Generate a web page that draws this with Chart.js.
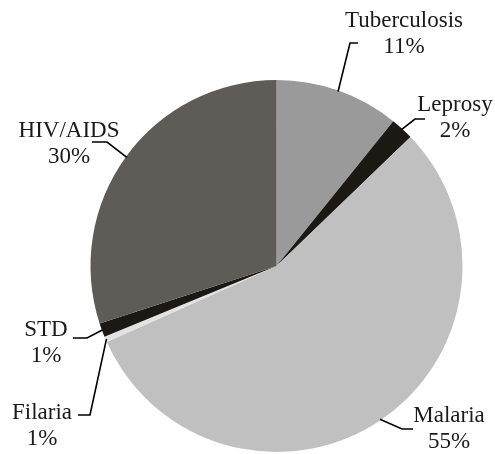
<!DOCTYPE html>
<html>
<head>
<meta charset="utf-8">
<script src="https://cdn.jsdelivr.net/npm/chart.js@4"></script>
<style>
html,body{margin:0;padding:0;background:#fff;}
#wrap{width:495px;height:454px;}
</style>
</head>
<body>
<div id="wrap"><canvas id="pieChart" width="495" height="454"></canvas></div>
<script>

// DATA

const diseases = ["Tuberculosis","Leprosy","Malaria","Filaria","STD","HIV/AIDS"];
const shares = [10.8, 2.0, 55.5, 0.5, 1.2, 30.0];
const shareLabels = ["11%","2%","55%","1%","1%","30%"];
const sliceColors = ["#9a9a9a","#1c1915","#c0c0c0","#e2e2e2","#1c1915","#5f5b57"];

// label layout: leader knee, leader end, text centre and first baseline
const labelLayout = [
{knee:[350,43], end:[358,43], tx:404, ty:27},
{knee:[415,119], end:[425,119], tx:455, ty:111},
{knee:[402,429], end:[413,429], tx:449, ty:422},
{knee:[90,415], end:[78,415], tx:42, ty:419},
{knee:[87,338], end:[73,338], tx:46, ty:336},
{knee:[107,142], end:[92,142], tx:69, ty:137}
];

const leaderLabels = {
id:"leaderLabels",
afterDatasetsDraw(chart){
const ctx = chart.ctx;
const arcs = chart.getDatasetMeta(0).data;
ctx.save();
ctx.strokeStyle = "#000";
ctx.lineWidth = 1.6;
ctx.fillStyle = "#1a1a1a";
ctx.font = "23px 'Liberation Serif', serif";
ctx.textAlign = "center";
ctx.textBaseline = "alphabetic";
arcs.forEach((arc,i)=>{
const p = arc.getProps(["x","y","startAngle","endAngle","outerRadius"],true);
const mid = (p.startAngle + p.endAngle)/2;
const sx = p.x + Math.cos(mid)*(p.outerRadius-1);
const sy = p.y + Math.sin(mid)*(p.outerRadius-1);
const L = labelLayout[i];
ctx.beginPath();
ctx.moveTo(sx,sy);
ctx.lineTo(L.knee[0],L.knee[1]);
ctx.lineTo(L.end[0],L.end[1]);
ctx.stroke();
ctx.fillText(diseases[i], L.tx, L.ty);
ctx.fillText(shareLabels[i], L.tx, L.ty+26);
});
ctx.restore();
}
};

new Chart(document.getElementById("pieChart"),{
type:"pie",
data:{
labels:diseases,
datasets:[{
data:shares,
backgroundColor:sliceColors,
borderWidth:0
}]
},
options:{
responsive:false,
animation:false,
layout:{padding:{left:90,right:32,top:80,bottom:2}},
plugins:{
legend:{display:false},
tooltip:{enabled:false}
}
},
plugins:[leaderLabels]
});

</script>
</body>
</html>
